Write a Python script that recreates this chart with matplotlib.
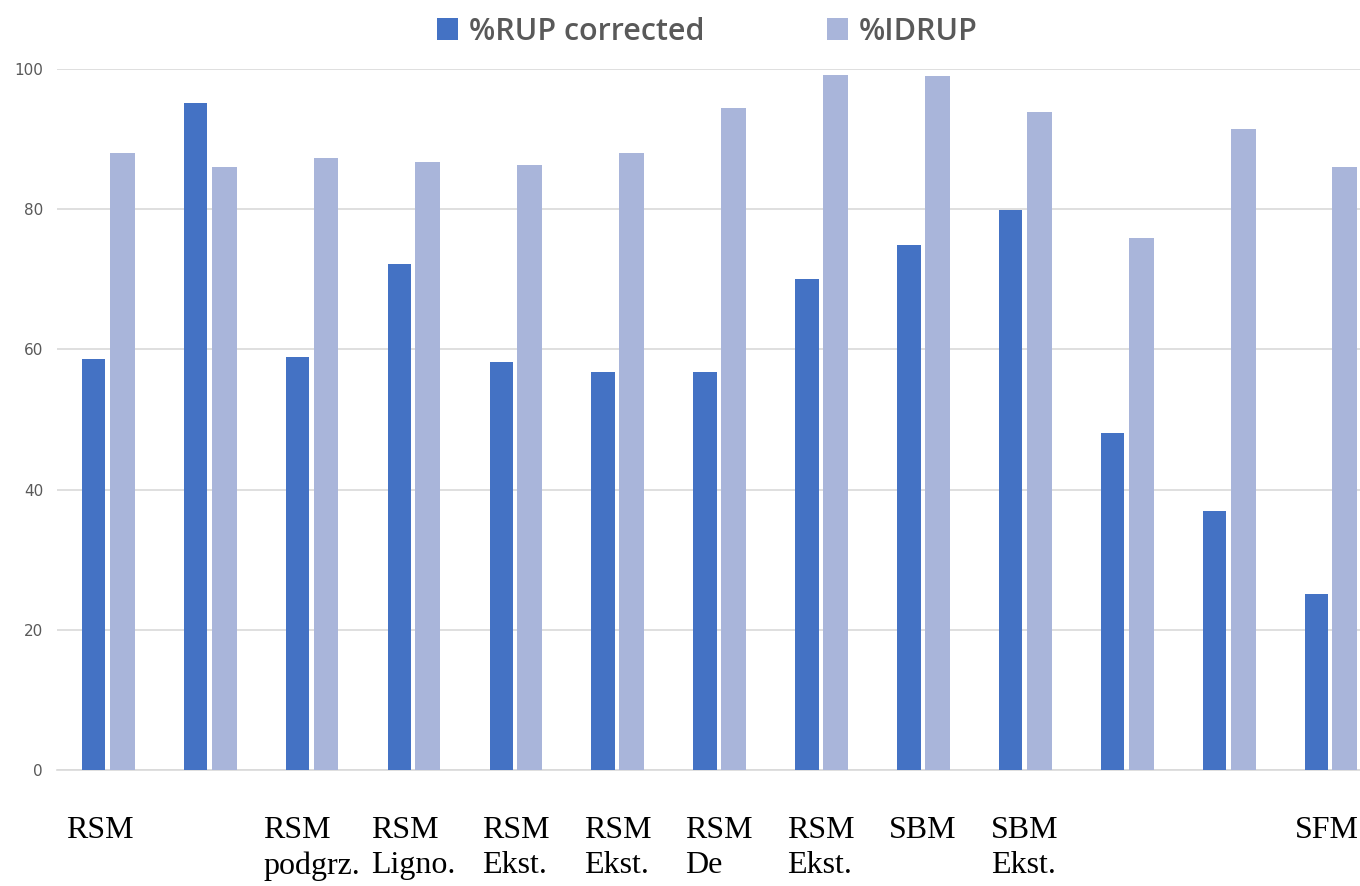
import matplotlib
matplotlib.use("Agg")

import matplotlib.pyplot as plt
import numpy as np

categories = ['RSM', '', 'RSM\npodgrz.', 'RSM\nLigno.', 'RSM\nEkst.', 'RSM\nEkst.',
              'RSM\nDe', 'RSM\nEkst.', 'SBM', 'SBM\nEkst.', '', '', 'SFM']
rup_corrected = [58.7, 95.1, 58.9, 72.2, 58.2, 56.8, 56.8, 70.0, 74.9, 79.9, 48.1, 36.9, 25.1]
idrup = [88.0, 86.0, 87.3, 86.7, 86.3, 88.0, 94.4, 99.1, 99.0, 93.9, 75.9, 91.4, 86.0]
yticks = [0, 20, 40, 60, 80, 100]


def generate_bar_chart():
    fig = plt.figure(figsize=(13.6, 8.86), dpi=100)
    # axes runs past the right edge, like the cropped original
    ax = fig.add_axes([0.0419, 0.1309, 0.974, 0.7912])

    x = np.arange(len(categories))
    ax.bar(x - 0.14, rup_corrected, width=0.23, color='#4472C4',
           label='%RUP corrected', zorder=3)
    ax.bar(x + 0.14, idrup, width=0.245, color='#A9B5DA',
           label='%IDRUP', zorder=3)

    ax.set_xlim(-0.5, len(categories) - 0.5)
    ax.set_ylim(0, 100)
    ax.set_yticks(yticks)
    ax.grid(axis='y', color='#D9D9D9', linewidth=1.2, zorder=0)
    for s in ['top', 'right', 'left']:
        ax.spines[s].set_visible(False)
    ax.spines['bottom'].set_color('#D9D9D9')
    ax.spines['bottom'].set_linewidth(1.2)

    ax.set_xticks([])
    ax.tick_params(axis='y', length=0, pad=10, labelsize=11, labelcolor='#595959')

    # category names sit below the axis like separate text boxes
    for i, cat in enumerate(categories):
        dx = -6 if i == 0 else (-3 if i == len(categories) - 1 else 0)
        ax.annotate(cat, xy=(i, 0), xycoords=('data', 'axes fraction'),
                    xytext=(dx, -33), textcoords='offset points',
                    ha='center', va='top', fontsize=23,
                    family='Liberation Serif', multialignment='left',
                    linespacing=1.3, annotation_clip=False)

    fig.legend(loc='upper center', bbox_to_anchor=(0.52, 1.012), ncol=2,
               frameon=False, handlelength=0.7, handleheight=0.7,
               columnspacing=4.0, handletextpad=0.35,
               prop={'family': 'Open Sans', 'weight': 'semibold', 'size': 22},
               labelcolor='#595959')

    fig.savefig('out.png', dpi=100)
    return 'out.png'


if __name__ == "__main__":
    generate_bar_chart()
